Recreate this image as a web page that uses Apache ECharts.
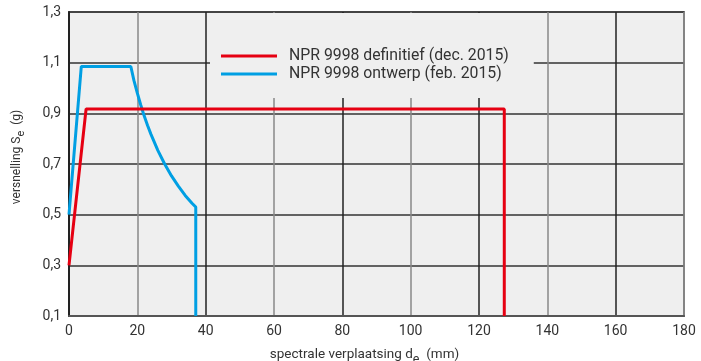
<!DOCTYPE html>
<html>
<head>
<meta charset="utf-8">
<script src="https://cdn.jsdelivr.net/npm/echarts@6/dist/echarts.min.js"></script>
<style>
  html, body { margin: 0; padding: 0; background: #fff; }
  #main { width: 701px; height: 361px; }
</style>
</head>
<body>
<div id="main"></div>
<script>
// waarden
var seriesNames = ['NPR 9998 definitief (dec. 2015)', 'NPR 9998 ontwerp (feb. 2015)'];
var defX = [0, 5, 127.4, 127.4];
var defY = [0.3, 0.917, 0.917, 0.1];
var ontX = [0, 3.6, 18.1, 19, 20, 21, 22, 23, 24, 26, 28, 30, 32, 34, 36, 37.1, 37.1];
var ontY = [0.5, 1.085, 1.085, 1.03, 0.98, 0.933, 0.89, 0.852, 0.817, 0.754, 0.70, 0.653, 0.613, 0.576, 0.545, 0.53, 0.1];
var xTicks = [0, 20, 40, 60, 80, 100, 120, 140, 160, 180];
var yTicks = [0.1, 0.3, 0.5, 0.7, 0.9, 1.1, 1.3];

function pairs(xs, ys) {
    var out = [];
    for (var i in xs) {
        out.push([xs[i], ys[i]]);
    }
    return out;
}

function isYTick(v) {
    for (var i in yTicks) {
        if (Math.abs(yTicks[i] - v) < 1e-6) return true;
    }
    return false;
}

var font = 'Roboto, "Liberation Sans", sans-serif';
var myChart = echarts.init(document.getElementById('main'));
var option = {
    animation: false,
    textStyle: { fontFamily: font },
    grid: {
        left: 69, right: 17, top: 12, bottom: 45,
        outerBoundsMode: 'none',
        containLabel: false,
        show: true,
        backgroundColor: '#efefef',
        borderColor: '#777',
        borderWidth: 2
    },
    legend: {
        data: seriesNames,
        orient: 'vertical',
        left: 210,
        top: 13,
        padding: [35, 25, 16, 11],
        backgroundColor: '#efefef',
        icon: 'rect',
        itemWidth: 56,
        itemHeight: 3,
        itemGap: 2,
        textStyle: { fontFamily: font, fontSize: 15.8, color: '#333', padding: [0, 0, 0, 7] }
    },
    xAxis: {
        type: 'value',
        min: xTicks[0],
        max: xTicks[xTicks.length - 1],
        interval: 20,
        name: '{t|spectrale verplaatsing d}{s|e}{t|  (mm)}',
        nameLocation: 'middle',
        nameGap: 27,
        nameTextStyle: {
            padding: [0, 24, 0, 0],
            rich: {
                t: { fontSize: 13.5, color: '#333', fontFamily: font, lineHeight: 20 },
                s: { fontSize: 12.5, color: '#333', fontFamily: font, lineHeight: 20, padding: [10, 0, 0, 0] }
            }
        },
        axisLine: { lineStyle: { color: '#555', width: 2 } },
        axisTick: { show: false },
        axisLabel: { color: '#333', fontSize: 14, margin: 8 },
        splitLine: { lineStyle: { color: ['#222', '#888'], width: 1.5 } }
    },
    yAxis: {
        type: 'value',
        min: 0.1,
        max: 1.3,
        interval: 0.1,
        name: '{t|versnelling S}{s|e}{t|  (g)}',
        nameLocation: 'middle',
        nameGap: 43,
        nameTextStyle: {
            padding: [0, 0, 0, 14],
            rich: {
                t: { fontSize: 12, color: '#333', fontFamily: font, lineHeight: 18 },
                s: { fontSize: 11, color: '#333', fontFamily: font, lineHeight: 18, padding: [9, 0, 0, 0] }
            }
        },
        axisLine: { lineStyle: { color: '#222', width: 2 } },
        axisTick: { show: false },
        axisLabel: {
            color: '#333', fontSize: 14, margin: 8,
            formatter: function(v) {
                return isYTick(v) ? v.toFixed(1).replace('.', ',') : '';
            }
        },
        splitLine: { lineStyle: { color: ['#333', 'rgba(0,0,0,0)'], width: 1.5 } }
    },
    series: [
        {
            name: seriesNames[0],
            type: 'line',
            data: pairs(defX, defY),
            showSymbol: false,
            lineStyle: { color: '#e60012', width: 3 },
            itemStyle: { color: '#e60012' },
            z: 3
        },
        {
            name: seriesNames[1],
            type: 'line',
            data: pairs(ontX, ontY),
            showSymbol: false,
            lineStyle: { color: '#009fe3', width: 3 },
            itemStyle: { color: '#009fe3' },
            z: 2
        }
    ]
};
myChart.setOption(option);
</script>
</body>
</html>
